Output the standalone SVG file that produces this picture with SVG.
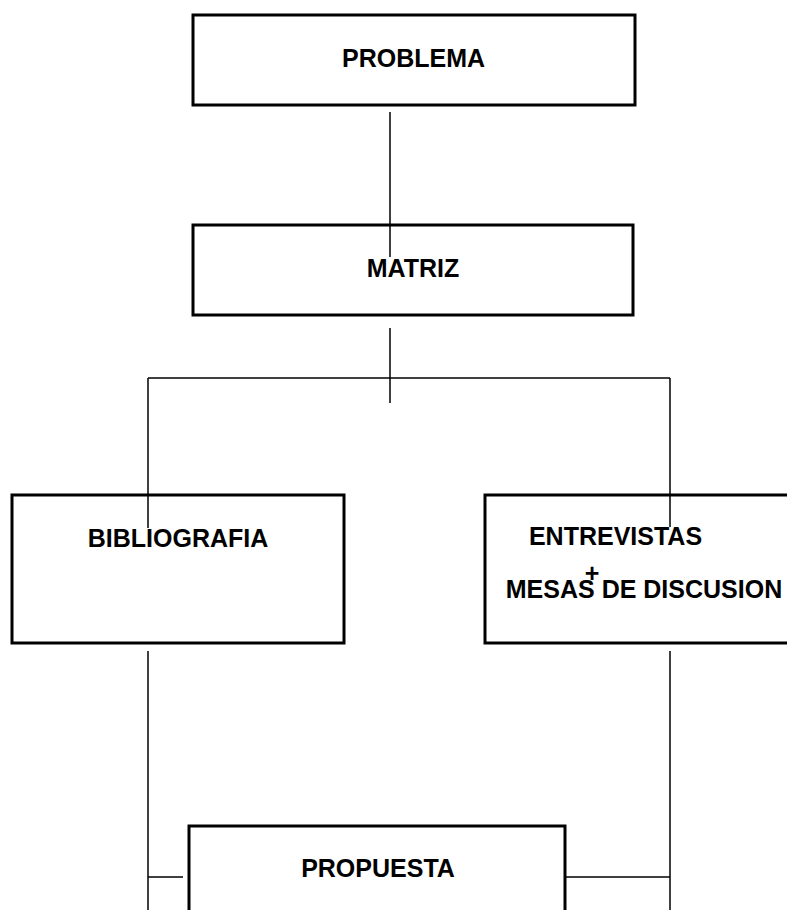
<svg xmlns="http://www.w3.org/2000/svg" width="787" height="910" viewBox="0 0 787 910">
<style>
.box{fill:#fff;stroke:#000;stroke-width:3}
.lbl{font-family:"Liberation Sans",Arial,sans-serif;font-weight:bold;font-size:25px;fill:#000;text-anchor:middle}
.con{fill:none;stroke:#000;stroke-width:1.5}
</style>
<rect width="787" height="910" fill="#fff"/>
<g id="n-problema"><rect class="box" x="193" y="15" width="442" height="90"/><text class="lbl" x="413.5" y="67">PROBLEMA</text></g>
<g id="n-matriz"><rect class="box" x="193" y="225" width="440" height="90"/><text class="lbl" x="413" y="277">MATRIZ</text></g>
<g id="n-bibliografia"><rect class="box" x="12" y="495" width="332" height="148"/><text class="lbl" x="178" y="547">BIBLIOGRAFIA</text></g>
<g id="n-entrevistas"><rect class="box" x="485" y="495" width="332" height="148"/><text class="lbl" x="615.5" y="545">ENTREVISTAS</text><text class="lbl" x="592" y="582">+</text><text class="lbl" x="644" y="598">MESAS DE DISCUSION</text></g>
<g id="n-propuesta"><rect class="box" x="189" y="826" width="376" height="120"/><text class="lbl" x="378" y="877">PROPUESTA</text></g>
<g id="connectors">
<path class="con" d="M390 112V257"/>
<path class="con" d="M390 328V403"/>
<path class="con" d="M148 378H670"/>
<path class="con" d="M148 378V528"/>
<path class="con" d="M670 378V527"/>
<path class="con" d="M148 651V910"/>
<path class="con" d="M670 651V910"/>
<path class="con" d="M148 877H183"/>
<path class="con" d="M565 877H670"/>
</g>
</svg>
